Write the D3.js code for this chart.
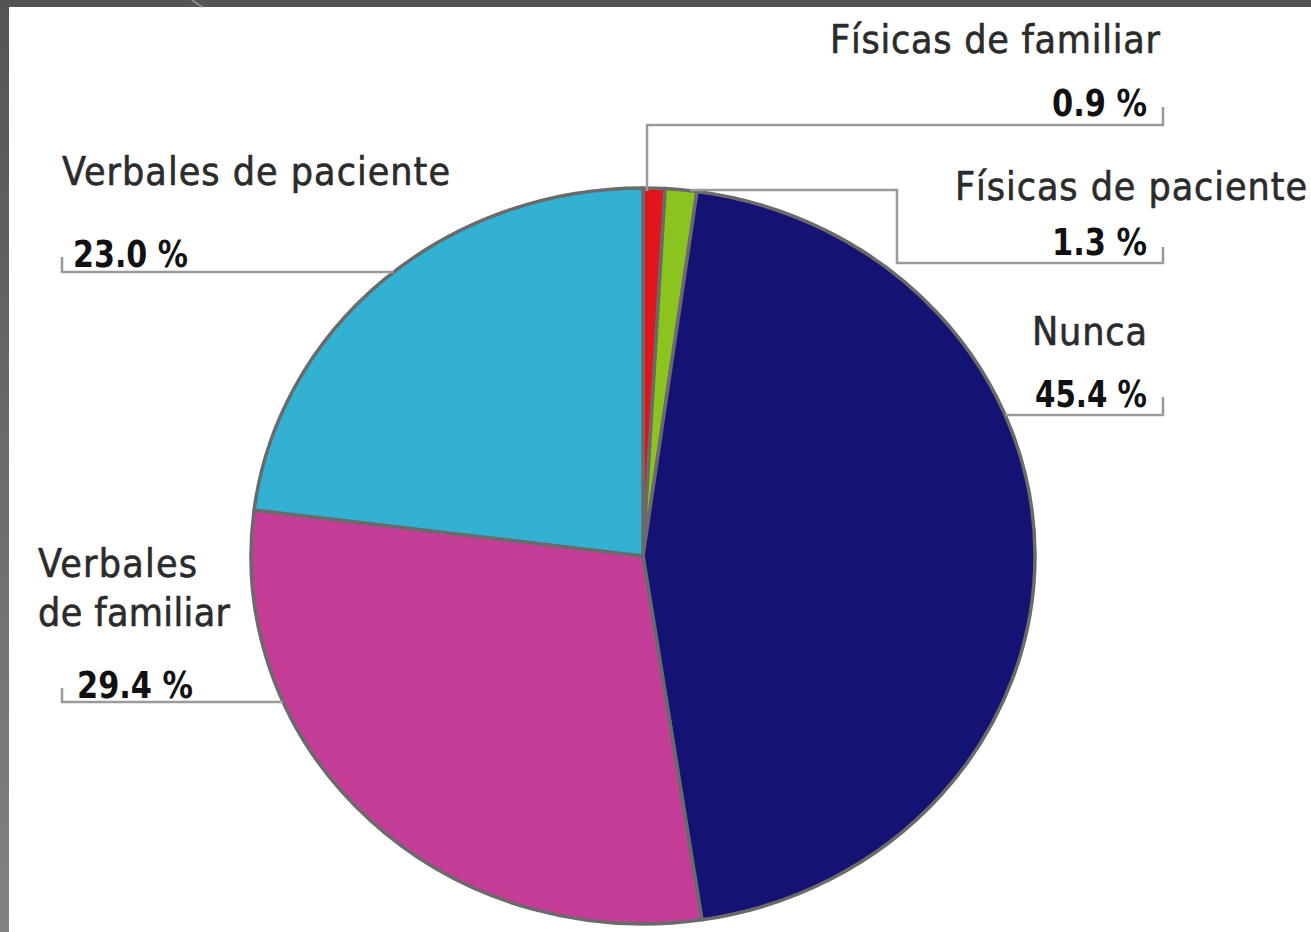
<!DOCTYPE html>
<html>
<head>
<meta charset="utf-8">
<script src="https://cdn.jsdelivr.net/npm/d3@7"></script>
<style>
  html, body { margin: 0; padding: 0; background: #555; }
  svg { display: block; }
</style>
</head>
<body>
<svg id="chart" width="1311" height="932"></svg>
<script>
// datos del gráfico (en orden horario desde las 12)
const categories = ["Físicas de familiar", "Físicas de paciente", "Nunca", "Verbales de familiar", "Verbales de paciente"];
const values = [0.9, 1.3, 45.4, 29.4, 23.0];
const valueLabels = ["0.9 %", "1.3 %", "45.4 %", "29.4 %", "23.0 %"];
const colors = ["#e3161e", "#8cc41f", "#141272", "#c43d97", "#33b1d3"];

const W = 1311, H = 932;
const cx = 643, cy = 556, rx = 392, ry = 368; // la imagen original está algo estirada
const font = "'DejaVu Sans Condensed', 'Liberation Sans Narrow', Arial, sans-serif";

const svg = d3.select("#chart");

// marco gris
const grad = svg.append("defs").append("linearGradient")
  .attr("id", "frame").attr("x1", 0).attr("y1", 0).attr("x2", 0).attr("y2", 1);
grad.append("stop").attr("offset", "0%").attr("stop-color", "#545454");
grad.append("stop").attr("offset", "100%").attr("stop-color", "#828282");
svg.append("rect").attr("width", W).attr("height", H).attr("fill", "url(#frame)");
svg.append("rect").attr("width", W).attr("height", 7).attr("fill", "#545454");
svg.append("rect").attr("x", 9).attr("y", 7).attr("width", W - 9).attr("height", H - 7).attr("fill", "#fff");
svg.append("line").attr("x1", 192).attr("y1", 0).attr("x2", 202).attr("y2", 7)
  .attr("stroke", "#8a8a8a").attr("stroke-width", 2);

// tarta
const pie = d3.pie().sort(null).value(d => d)(values);
const arc = d3.arc().innerRadius(0).outerRadius(ry);

const g = svg.append("g")
  .attr("transform", `translate(${cx},${cy}) scale(${rx / ry},1)`);

g.selectAll("path")
  .data(pie)
  .join("path")
  .attr("d", arc)
  .attr("fill", (d, i) => colors[i])
  .attr("stroke", "#6a6a6a")
  .attr("stroke-width", 3.5)
  .attr("stroke-linejoin", "round")
  .attr("vector-effect", "non-scaling-stroke");

// borde de la elipse a una altura dada (para las líneas guía)
const edgeX = (y, side) => cx + side * rx * Math.sqrt(1 - ((y - cy) / ry) ** 2);

// posiciones de etiquetas y líneas guía
const labelLayout = [
  { lines: [{ t: categories[0], x: 1160, y: 53, w: 330 }], anchor: "end",
    pct: { x: 1147, y: 116, w: 95 },
    leader: [[647, cy - ry + 3], [647, 125], [1163, 125], [1163, 107]] },
  { lines: [{ t: categories[1], x: 1307, y: 200, w: 352 }], anchor: "end",
    pct: { x: 1147, y: 255, w: 95 },
    leader: [[690, 190], [897, 190], [897, 263], [1163, 263], [1163, 247]] },
  { lines: [{ t: categories[2], x: 1147, y: 345, w: 115 }], anchor: "end",
    pct: { x: 1147, y: 407, w: 112 },
    leader: [[edgeX(415, 1), 415], [1163, 415], [1163, 397]] },
  { lines: [{ t: "Verbales", x: 38, y: 577, w: 159 }, { t: "de familiar", x: 38, y: 626, w: 192 }], anchor: "start",
    pct: { x: 77, y: 698, w: 116 },
    leader: [[62, 688], [62, 702], [edgeX(702, -1), 702]] },
  { lines: [{ t: categories[4], x: 62, y: 185, w: 388 }], anchor: "start",
    pct: { x: 73, y: 267, w: 115 },
    leader: [[62, 257], [62, 272], [edgeX(272, -1), 272]] }
];

const labels = svg.append("g");
const line = d3.line();

labelLayout.forEach((L, i) => {
  labels.append("path")
    .attr("d", line(L.leader))
    .attr("fill", "none")
    .attr("stroke", "#9a9a9a")
    .attr("stroke-width", 2.5);

  L.lines.forEach(l => {
    labels.append("text")
      .attr("x", l.x).attr("y", l.y)
      .attr("text-anchor", L.anchor)
      .attr("textLength", l.w)
      .attr("lengthAdjust", "spacing")
      .attr("font-family", font)
      .attr("font-size", 39)
      .attr("fill", "#2b2b2b")
      .attr("stroke", "#2b2b2b")
      .attr("stroke-width", 0.6)
      .text(l.t);
  });

  labels.append("text")
    .attr("x", L.pct.x).attr("y", L.pct.y)
    .attr("text-anchor", L.anchor)
    .attr("textLength", L.pct.w)
    .attr("lengthAdjust", "spacingAndGlyphs")
    .attr("font-family", font)
    .attr("font-weight", "bold")
    .attr("font-size", 38)
    .attr("fill", "#111")
    .text(valueLabels[i]);
});
</script>
</body>
</html>
